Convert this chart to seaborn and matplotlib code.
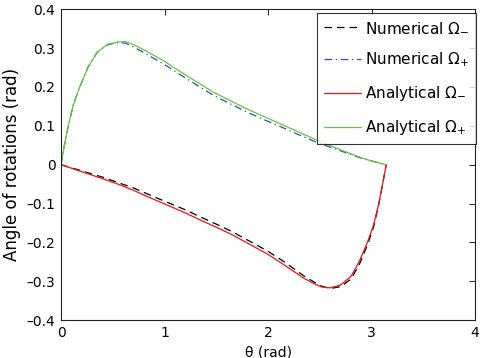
import numpy as np
import pandas as pd
import seaborn as sns
import matplotlib
matplotlib.use("Agg")
import matplotlib.pyplot as plt

# theta grids (rad)
theta_plus = [0, 0.03, 0.07, 0.12, 0.18, 0.26, 0.35, 0.45, 0.55, 0.62, 0.7, 0.8, 0.9, 1.0,
              1.15, 1.3, 1.47, 1.64, 1.8, 1.96, 2.12, 2.28, 2.44, 2.6, 2.76, 2.92, 3.05, 3.1416]
theta_minus = [0, 0.1, 0.2, 0.4, 0.55, 0.7, 0.85, 1.0, 1.2, 1.35, 1.5, 1.65, 1.85, 2.0,
               2.15, 2.25, 2.35, 2.45, 2.52, 2.6, 2.7, 2.8, 2.88, 2.96, 3.02, 3.07, 3.11, 3.1416]

# angle of rotations (rad)
num_minus = [0, -0.008, -0.016, -0.032, -0.046, -0.060, -0.077, -0.094, -0.116, -0.135, -0.153,
             -0.172, -0.201, -0.223, -0.249, -0.268, -0.287, -0.303, -0.313, -0.319, -0.314,
             -0.295, -0.258, -0.207, -0.160, -0.102, -0.046, 0]
num_plus = [0, 0.046, 0.099, 0.156, 0.199, 0.251, 0.289, 0.309, 0.314, 0.313, 0.303, 0.289,
            0.273, 0.258, 0.232, 0.207, 0.179, 0.156, 0.135, 0.116, 0.098, 0.079, 0.061,
            0.045, 0.030, 0.015, 0.006, 0]
ana_minus = [0, -0.009, -0.018, -0.036, -0.050, -0.066, -0.084, -0.101, -0.124, -0.143, -0.161,
             -0.180, -0.209, -0.231, -0.257, -0.275, -0.293, -0.307, -0.315, -0.317, -0.310,
             -0.288, -0.250, -0.200, -0.155, -0.100, -0.045, 0]
ana_plus = [0, 0.045, 0.100, 0.155, 0.200, 0.250, 0.290, 0.310, 0.316, 0.317, 0.309, 0.296,
            0.281, 0.266, 0.240, 0.215, 0.187, 0.164, 0.143, 0.124, 0.105, 0.086, 0.067,
            0.049, 0.032, 0.016, 0.006, 0]

x_ticks = [0, 1, 2, 3, 4]
y_ticks = [-0.4, -0.3, -0.2, -0.1, 0, 0.1, 0.2, 0.3, 0.4]
y_ticklabels = ['\u20130.4', '\u20130.3', '\u20130.2', '\u20130.1', '0',
                '0.1', '0.2', '0.3', '0.4']

sns.set_style("white")
plt.rcParams['font.family'] = ['DejaVu Sans']
plt.rcParams['mathtext.fontset'] = 'dejavusans'
plt.rcParams['text.color'] = 'black'
plt.rcParams['axes.labelcolor'] = 'black'

fig = plt.figure(figsize=(4.82, 3.58), dpi=100)
ax = fig.add_axes([0.1266, 0.106, 0.859, 0.868])

lw = 0.9
sns.lineplot(x=theta_minus, y=num_minus, ax=ax, color='black', lw=lw,
             label=r'Numerical $\Omega_{-}$', estimator=None, sort=False)
sns.lineplot(x=theta_plus, y=num_plus, ax=ax, color='#2d4fa6', lw=lw,
             label=r'Numerical $\Omega_{+}$', estimator=None, sort=False)
sns.lineplot(x=theta_minus, y=ana_minus, ax=ax, color='#e8141c', lw=lw,
             label=r'Analytical $\Omega_{-}$', estimator=None, sort=False)
sns.lineplot(x=theta_plus, y=ana_plus, ax=ax, color='#6cbf4a', lw=lw,
             label=r'Analytical $\Omega_{+}$', estimator=None, sort=False)
ax.lines[0].set_dashes((6, 4))
ax.lines[1].set_dashes((6, 3, 1, 3))

ax.set_xlim(0, 4)
ax.set_ylim(-0.4, 0.4)
ax.set_xticks(x_ticks)
ax.set_xticklabels([str(t) for t in x_ticks])
ax.set_yticks(y_ticks)
ax.set_yticklabels(y_ticklabels)
ax.tick_params(direction='in', length=4, width=0.6, top=True, right=True,
               labelsize=10, pad=4, colors='black')
for s in ax.spines.values():
    s.set_color('#222222')
    s.set_linewidth(0.8)

ax.set_xlabel('\u03b8 (rad)', fontsize=10, labelpad=4)
ax.set_ylabel('Angle of rotations (rad)', fontsize=12, labelpad=4)

leg = ax.legend(loc='upper right', bbox_to_anchor=(1.002, 0.988), frameon=True,
                fancybox=False, fontsize=11, handlelength=2.4, handletextpad=0.25,
                labelspacing=1.0, borderaxespad=0, borderpad=0.45)
leg.get_frame().set_edgecolor('black')
leg.get_frame().set_linewidth(0.8)

fig.savefig('out.png', dpi=100)
